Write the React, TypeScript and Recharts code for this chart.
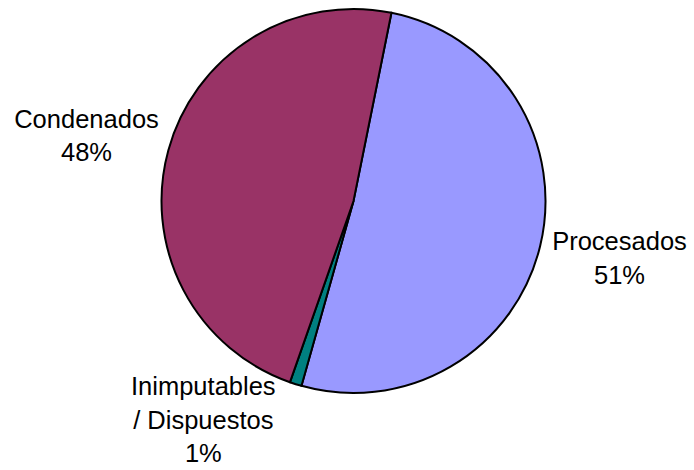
import React from 'react';
import { PieChart, Pie, Cell } from 'recharts';

const categories = ['Procesados', 'Inimputables / Dispuestos', 'Condenados'];
const values = [51.2, 1.0, 47.8];
const colors = ['#9999FF', '#008080', '#993366'];

const labelLines: Record<string, string[]> = {
  'Procesados': ['Procesados'],
  'Inimputables / Dispuestos': ['Inimputables', '/ Dispuestos'],
  'Condenados': ['Condenados'],
};

// label placement rule: radial distance past the rim, small angular nudges
const LABEL_GAP: Record<string, number> = {
  'Procesados': 80,
  'Inimputables / Dispuestos': 73,
  'Condenados': 83,
};
const LABEL_ANGLE_NUDGE: Record<string, number> = {
  'Procesados': 1.5,
  'Inimputables / Dispuestos': -17,
  'Condenados': 1.5,
};

const data = categories.map((name, i) => ({ name, value: values[i] }));

const FONT = 'Liberation Sans, Arial, sans-serif';
const FONT_SIZE = 25.5;
const LINE_H = 33.5;

const renderLabel = (props: any) => {
  const { cx, cy, midAngle, outerRadius, percent, name, index } = props;
  const ang = ((midAngle + (LABEL_ANGLE_NUDGE[name] || 0)) * Math.PI) / 180;
  const r = outerRadius + (LABEL_GAP[name] ?? 80);
  const x = cx + r * Math.cos(ang);
  const y = cy - r * Math.sin(ang);
  const lines = [...(labelLines[name] || [name]), `${Math.round(percent * 100)}%`];
  const firstBaseline = y - ((lines.length - 1) * LINE_H) / 2 + FONT_SIZE * 0.36;
  return (
    <text
      key={`lbl-${index}`}
      x={x}
      y={firstBaseline}
      textAnchor="middle"
      fill="#000"
      fontFamily={FONT}
      fontSize={FONT_SIZE}
    >
      {lines.map((l, i) => (
        <tspan key={i} x={x} y={firstBaseline + i * LINE_H}>
          {l}
        </tspan>
      ))}
    </text>
  );
};

export default function App() {
  return (
    <div style={{ position: 'absolute', left: 0, top: 0, width: 694, height: 470, background: '#fff' }}>
      <PieChart width={694} height={470} margin={{ top: 0, right: 0, bottom: 0, left: 0 }}>
        <Pie
          data={data}
          dataKey="value"
          nameKey="name"
          cx={353.5}
          cy={201}
          outerRadius={192}
          startAngle={78.6}
          endAngle={-281.4}
          stroke="#000"
          strokeWidth={2}
          label={renderLabel}
          labelLine={false}
          isAnimationActive={false}
        >
          {data.map((d, i) => (
            <Cell key={d.name} fill={colors[i]} />
          ))}
        </Pie>
      </PieChart>
    </div>
  );
}
